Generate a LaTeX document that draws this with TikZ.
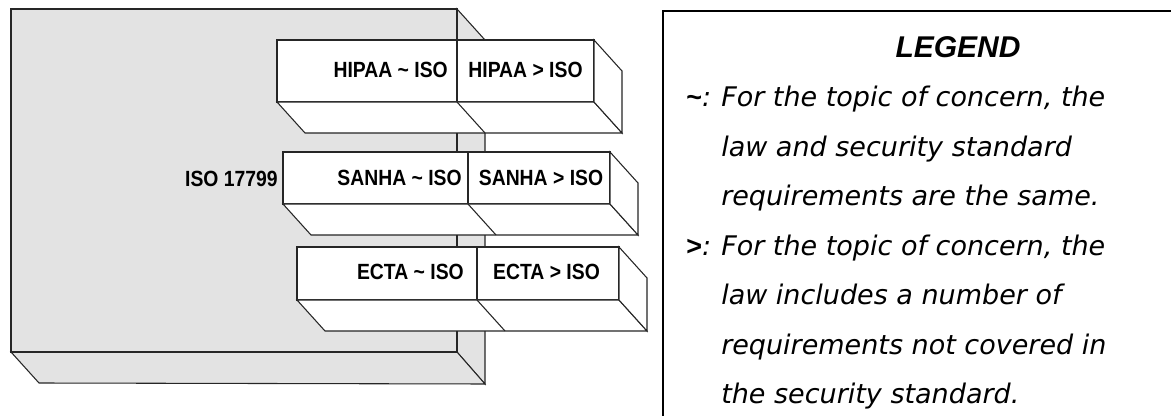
\documentclass[tikz,border=0pt]{standalone}
\usepackage{fontspec}
\newfontfamily\boxfont[FakeStretch=0.88]{Liberation Sans}
\newfontfamily\headfont{Liberation Sans}
\newfontfamily\legendfont{DejaVu Sans}
\tikzset{
  face/.style={draw=black!85, line width=0.8pt, fill=white},
  grayface/.style={face, fill=black!11},
  lawtext/.style={font=\boxfont\bfseries\fontsize{16.5}{19}\selectfont, inner sep=0pt},
  legtext/.style={font=\legendfont\itshape\fontsize{20.25}{24}\selectfont, inner sep=0pt, anchor=base west},
  legkey/.style={legtext, font=\headfont\bfseries\fontsize{20.25}{24}\selectfont}
}

\begin{document}
\begin{tikzpicture}[x=0.75pt, y=-0.75pt]
\useasboundingbox (0,0) rectangle (1171,416);
\clip (0,0) rectangle (1171,416);

% the ISO 17799 block
\coordinate (isoA) at (11,9);
\coordinate (isoB) at (457,352);
\filldraw[grayface] (457,9) -- ++(28,31) -- (485,384) -- (isoB) -- cycle;
\filldraw[grayface] (11,352) -- ++(28,31) -- (485,384) -- (isoB) -- cycle;
\filldraw[grayface] (isoA) rectangle (isoB);

% one slab per law
\foreach \xa/\xm/\xb/\ya/\yb in {277/457/594/40/102, 283/468/610/152/204, 297/477/619/247/300}{
  \filldraw[face] (\xa,\ya) rectangle (\xb,\yb);
  \draw[face] (\xm,\ya) -- (\xm,\yb);
  \filldraw[face] (\xa,\yb) -- ++(28,31) -- ++(\xb-\xa,0) -- (\xb,\yb) -- cycle;
  \draw[face] (\xm,\yb) -- ++(28,31);
  \filldraw[face] (\xb,\ya) -- ++(28,31) -- ++(0,\yb-\ya) -- (\xb,\yb) -- cycle;
}

\node[lawtext, anchor=east] (iso) at (278,179) {ISO 17799};
\node[lawtext, anchor=east] (hipaaSim) at (448,70) {HIPAA \textasciitilde\ ISO};
\node[lawtext] (hipaaSup) at (525.5,70) {HIPAA > ISO};
\node[lawtext, anchor=east] (sanhaSim) at (462,178) {SANHA \textasciitilde\ ISO};
\node[lawtext] (sanhaSup) at (541,178) {SANHA > ISO};
\node[lawtext, anchor=east] (ectaSim) at (464,272) {ECTA \textasciitilde\ ISO};
\node[lawtext] (ectaSup) at (546.5,272) {ECTA > ISO};

% legend
\draw[line width=1.5pt] (1200,11) -- (663,11) -- (663,440);
\node[font=\headfont\bfseries\itshape\fontsize{22.5}{27}\selectfont, inner sep=0pt] (legend) at (958,47) {LEGEND};

\node[legkey] (simKey) at (686,107) {\textasciitilde{\legendfont\mdseries\itshape:}};
\node[legtext] (simA) at (721,107) {For the topic of concern, the};
\node[legtext] (simB) at (721,156.5) {law and security standard};
\node[legtext] (simC) at (721,206) {requirements are the same.};
\node[legkey] (supKey) at (686,255.5) {>{\legendfont\mdseries\itshape:}};
\node[legtext] (supA) at (721,255.5) {For the topic of concern, the};
\node[legtext] (supB) at (721,305) {law includes a number of};
\node[legtext] (supC) at (721,354.5) {requirements not covered in};
\node[legtext] (supD) at (721,404) {the security standard.};
\end{tikzpicture}
\end{document}
